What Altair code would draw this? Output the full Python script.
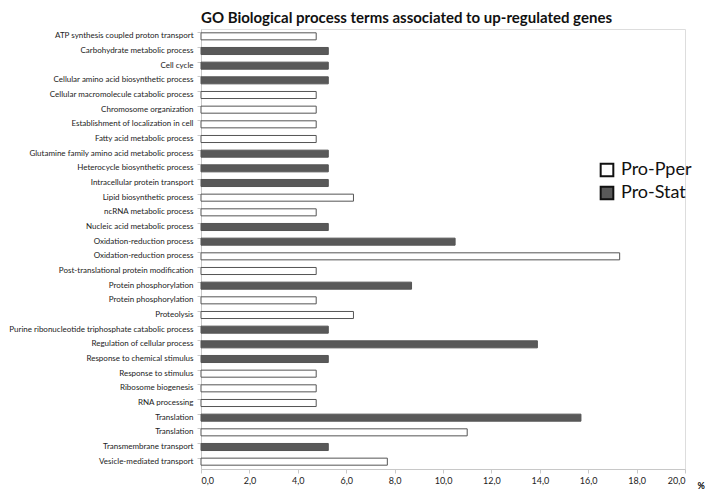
import altair as alt
import pandas as pd

terms = [
    "ATP synthesis coupled proton transport",
    "Carbohydrate metabolic process",
    "Cell cycle",
    "Cellular amino acid biosynthetic process",
    "Cellular macromolecule catabolic process",
    "Chromosome organization",
    "Establishment of localization in cell",
    "Fatty acid metabolic process",
    "Glutamine family amino acid metabolic process",
    "Heterocycle biosynthetic process",
    "Intracellular protein transport",
    "Lipid biosynthetic process",
    "ncRNA metabolic process",
    "Nucleic acid metabolic process",
    "Oxidation-reduction process",
    "Oxidation-reduction process",
    "Post-translational protein modification",
    "Protein phosphorylation",
    "Protein phosphorylation",
    "Proteolysis",
    "Purine ribonucleotide triphosphate catabolic process",
    "Regulation of cellular process",
    "Response to chemical stimulus",
    "Response to stimulus",
    "Ribosome biogenesis",
    "RNA processing",
    "Translation",
    "Translation",
    "Transmembrane transport",
    "Vesicle-mediated transport",
]
groups = [
    "Pro-Pper", "Pro-Stat", "Pro-Stat", "Pro-Stat", "Pro-Pper", "Pro-Pper",
    "Pro-Pper", "Pro-Pper", "Pro-Stat", "Pro-Stat", "Pro-Stat", "Pro-Pper",
    "Pro-Pper", "Pro-Stat", "Pro-Stat", "Pro-Pper", "Pro-Pper", "Pro-Stat",
    "Pro-Pper", "Pro-Pper", "Pro-Stat", "Pro-Stat", "Pro-Stat", "Pro-Pper",
    "Pro-Pper", "Pro-Pper", "Pro-Stat", "Pro-Pper", "Pro-Stat", "Pro-Pper",
]
values = [
    4.76, 5.26, 5.26, 5.26, 4.76, 4.76, 4.76, 4.76, 5.26, 5.26,
    5.26, 6.3, 4.76, 5.26, 10.5, 17.3, 4.76, 8.7, 4.76, 6.3,
    5.26, 13.9, 5.26, 4.76, 4.76, 4.76, 15.7, 11.0, 5.26, 7.7,
]
x_ticks = [0, 2, 4, 6, 8, 10, 12, 14, 16, 18, 20]

# make duplicate labels unique with zero-width spaces (text stays identical)
seen = {}
keys = []
for t in terms:
    n = seen.get(t, 0)
    keys.append(t + "\u200b" * n)
    seen[t] = n + 1

df = pd.DataFrame({"term": keys, "group": groups, "value": values})

FONT = "Lato"

bars = alt.Chart(df).mark_bar(strokeWidth=1, stroke="#555555").encode(
    y=alt.Y(
        "term:N",
        sort=keys,
        title=None,
        scale=alt.Scale(paddingInner=0.52, paddingOuter=0.26),
        axis=alt.Axis(
            labelFont=FONT, labelFontSize=8.0, labelColor="#222222",
            domainColor="#c8c8c8", tickColor="#c8c8c8", tickSize=4,
            bandPosition=0, labelPadding=4, labelLimit=260,
        ),
    ),
    x=alt.X(
        "value:Q",
        scale=alt.Scale(domain=[0, 20], nice=False),
        axis=alt.Axis(
            values=x_ticks,
            labelExpr="replace(format(datum.value, '.1f'), '.', ',')",
            labelFont=FONT, labelFontSize=9, labelColor="#222222",
            domainColor="#c8c8c8", tickColor="#c8c8c8", tickSize=4,
            grid=False, labelPadding=3,
            title="%", titleFont=FONT, titleFontSize=9, titleFontWeight="bold",
            titleAnchor="end", titleAlign="left", titleX=496, titleY=12,
        ),
    ),
    color=alt.Color(
        "group:N",
        scale=alt.Scale(domain=["Pro-Pper", "Pro-Stat"], range=["#ffffff", "#595959"]),
        legend=alt.Legend(
            title=None, orient="none", legendX=397, legendY=132,
            symbolType="square", symbolSize=160, symbolStrokeColor="#111111",
            symbolStrokeWidth=2, labelFont=FONT, labelFontSize=18,
            labelColor="#111111", rowPadding=1, labelOffset=5,
        ),
    ),
)

chart = bars.properties(
    width=484,
    height=440,
    padding={"left": 0, "right": 0, "top": 3, "bottom": 0},
    title=alt.Title(
        "GO Biological process terms associated to up-regulated genes",
        font=FONT, fontSize=15, fontWeight="bold", color="#111111",
        anchor="start", frame="group", offset=3,
    ),
).configure_view(stroke=None).configure(background="white")

chart.save("out.html", embed_options={"renderer": "svg", "actions": False})
